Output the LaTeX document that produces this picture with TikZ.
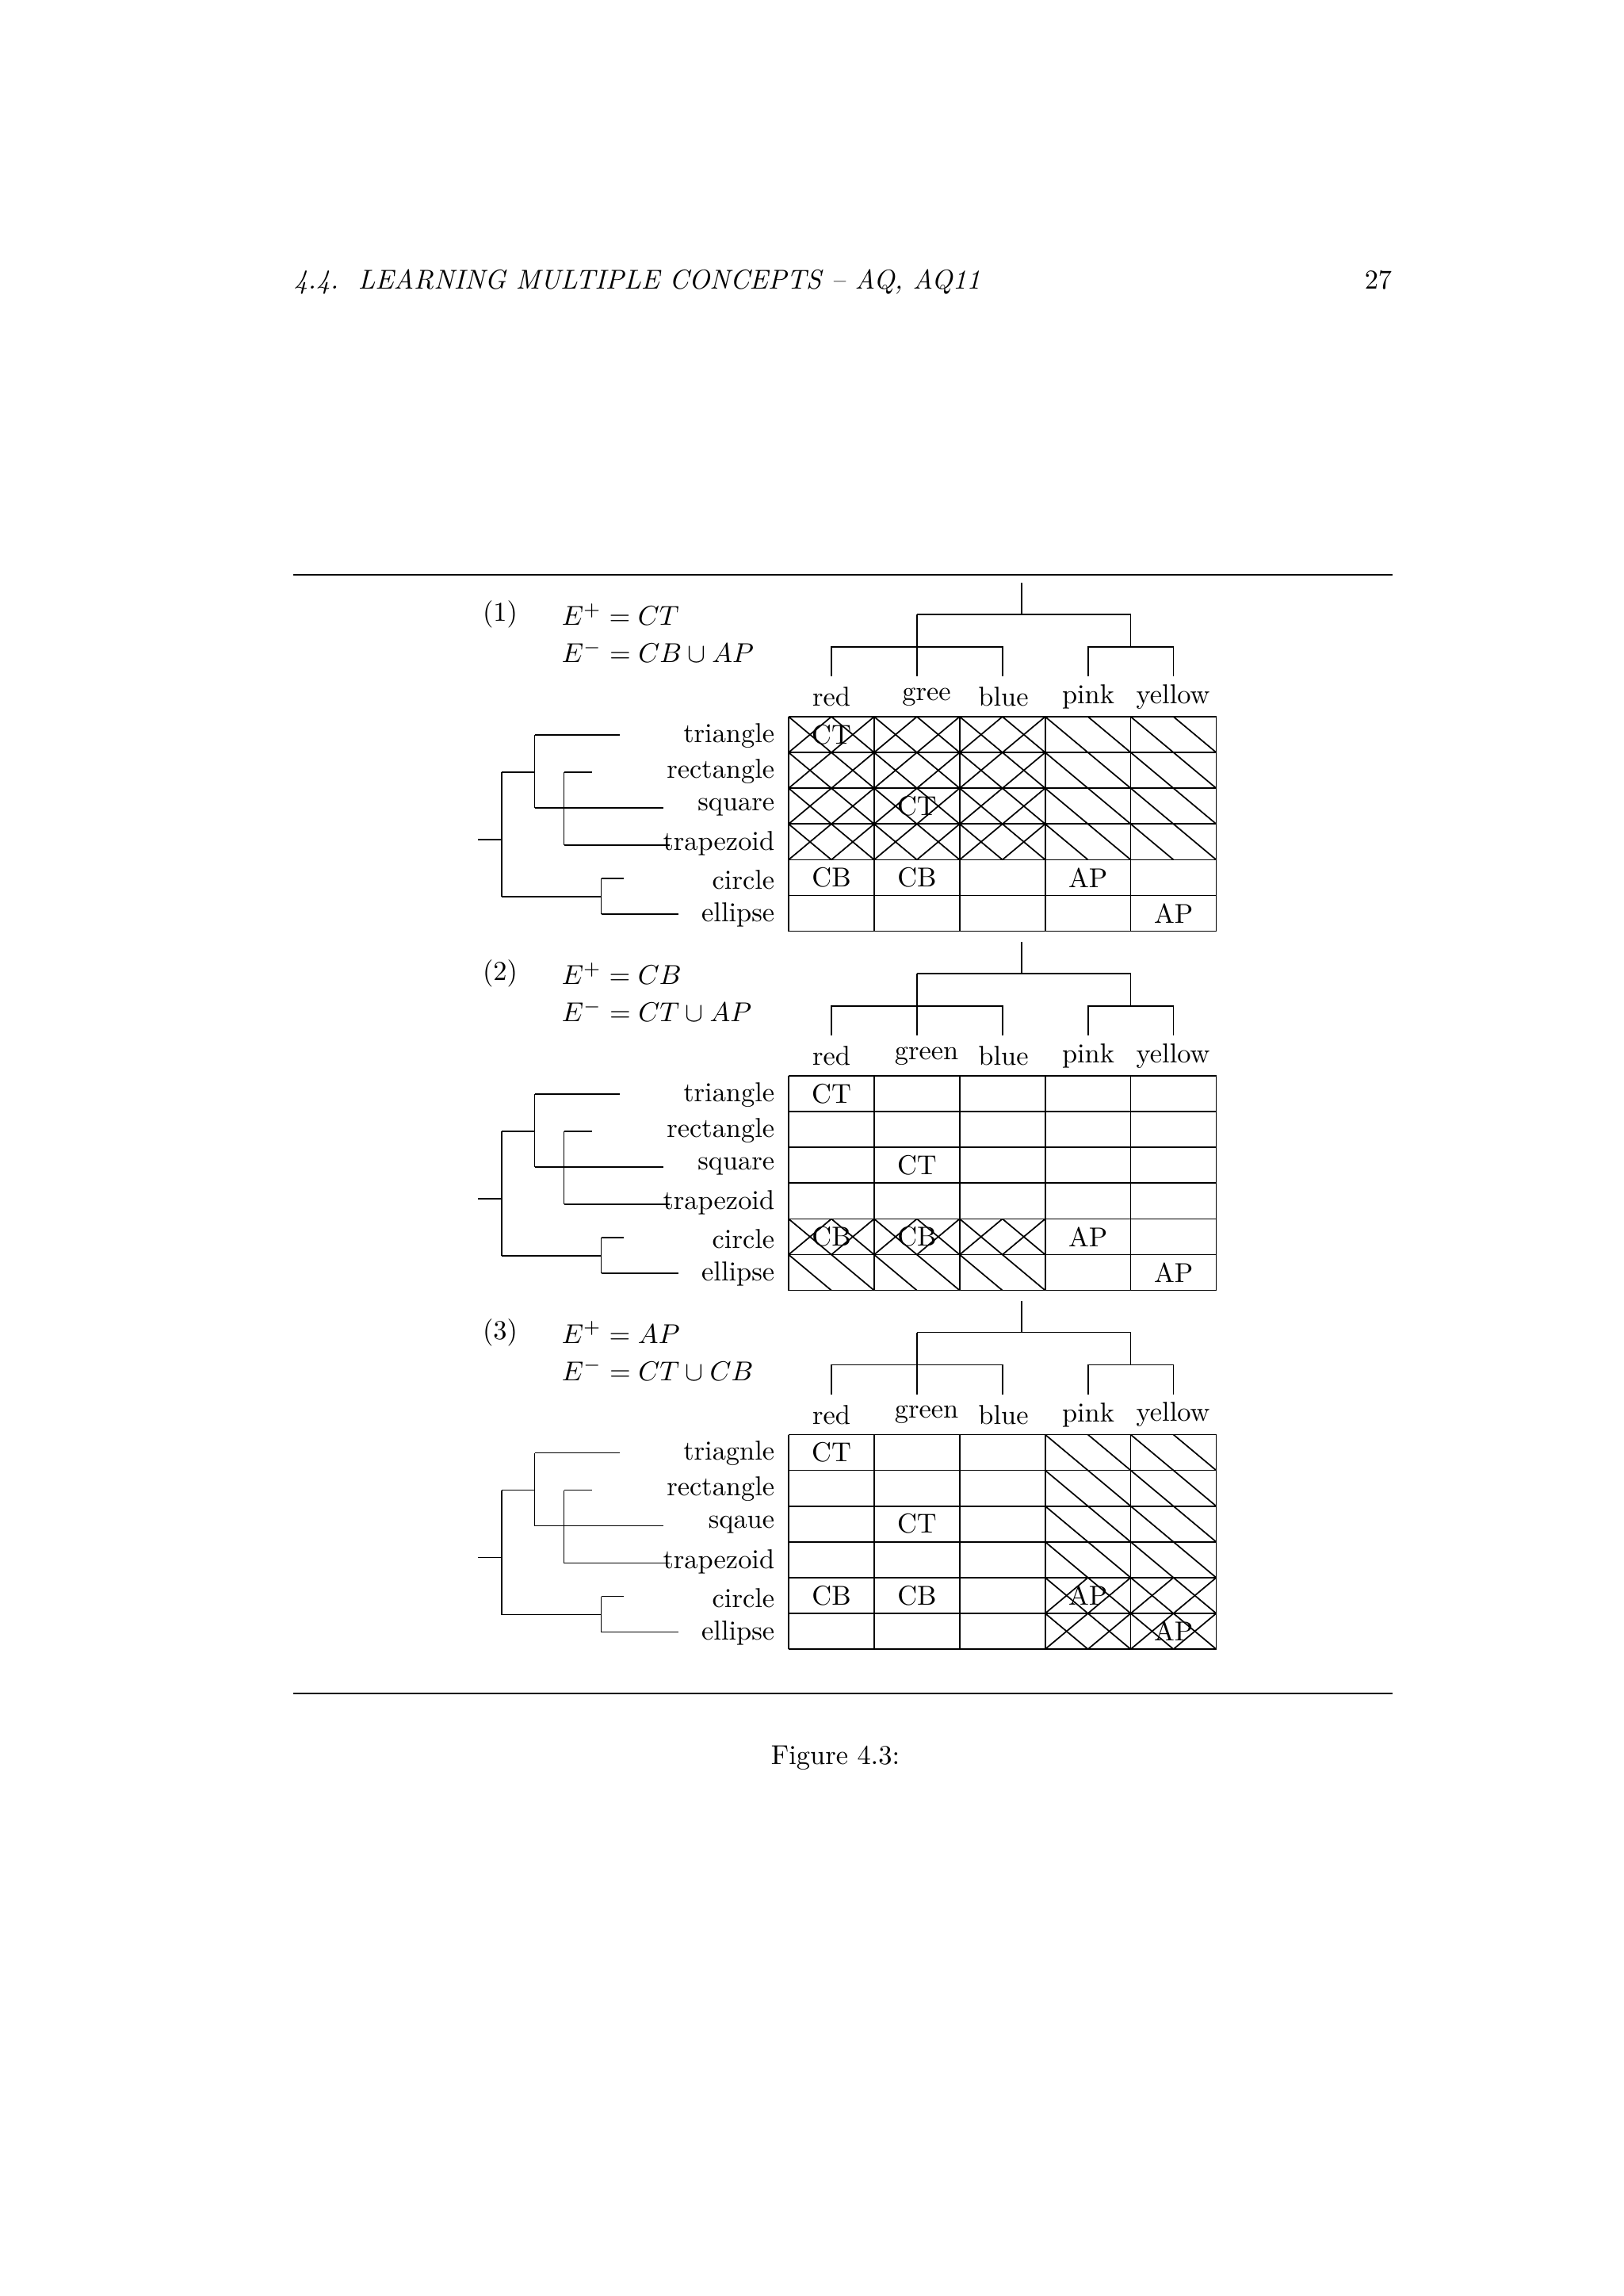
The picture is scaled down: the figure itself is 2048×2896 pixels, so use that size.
\documentclass[tikz,border=0pt]{standalone}
\usepackage{amsmath}
\begin{document}
\begin{tikzpicture}[x=0.29067pt,y=-0.29067pt,line width=0.5pt,
  lbl/.style={inner sep=0pt,font=\fontsize{10}{12}\selectfont},
  cell/.style={lbl}]
\useasboundingbox (0,0) rectangle (2048,2896);
\node[lbl,anchor=base west,font=\fontsize{10}{12}\selectfont\itshape] (hd) at (370,364) {4.4.\ \ LEARNING MULTIPLE CONCEPTS -- AQ, AQ11};
\node[lbl,anchor=base east] (pg) at (1757,364) {27};
\draw (370,725) -- (1757,725);
\draw (370,2136) -- (1757,2136);
\node[lbl] (cap) at (1054,2217) {Figure 4.3:};
% generic panel
\newcommand{\mypanel}[9]{%
\begin{scope}[shift={(995,#1)}]
 \foreach \c/\r in {#8}{
   \pgfmathsetmacro{\xa}{107.9*\c}\pgfmathsetmacro{\ya}{45.1*\r}
   \draw ({\xa},{\ya}) -- ({\xa+53.95},{\ya+45.1});
   \draw ({\xa+53.95},{\ya}) -- ({\xa+107.9},{\ya+45.1});
   \draw ({\xa+53.95},{\ya}) -- ({\xa},{\ya+45.1});
   \draw ({\xa+107.9},{\ya}) -- ({\xa+53.95},{\ya+45.1});}
 \foreach \c/\r in {#9}{
   \pgfmathsetmacro{\xa}{107.9*\c}\pgfmathsetmacro{\ya}{45.1*\r}
   \draw ({\xa},{\ya}) -- ({\xa+53.95},{\ya+45.1});
   \draw ({\xa+53.95},{\ya}) -- ({\xa+107.9},{\ya+45.1});}
 \foreach \i in {0,...,5}{\draw ({107.9*\i},0) -- ({107.9*\i},270.6);}
 \foreach \j in {0,...,6}{\draw (0,{45.1*\j}) -- (539.5,{45.1*\j});}
 \node[cell] (ct1) at (54,22.5) {CT};
 \node[cell] (ct2) at (161.9,112.7) {CT};
 \node[cell] (cb1) at (54,202.9) {CB};
 \node[cell] (cb2) at (161.9,202.9) {CB};
 \node[cell] (ap1) at (377.7,202.9) {AP};
 \node[cell] (ap2) at (485.6,248) {AP};
 \draw (294,-169) -- (294,-129);
 \draw (162,-129) -- (431.6,-129);
 \draw (162,-129) -- (162,-51);
 \draw (431.6,-129) -- (431.6,-88);
 \draw (54,-51) -- (54,-88) -- (270,-88) -- (270,-51);
 \draw (377.7,-51) -- (377.7,-88) -- (485.6,-88) -- (485.6,-51);
 \node[lbl] (cr) at (54,-25) {red};
 \node[lbl] (cg) at (174,-25) {#2};
 \node[lbl] (cbl) at (271,-25) {blue};
 \node[lbl] (cp) at (378,-25) {pink};
 \node[lbl] (cy) at (485,-25) {yellow};
 \node[lbl] (num) at (-364,-129) {(#3)};
 \node[lbl,anchor=west] (ep) at (-287,-129) {$E^{+}=#4$};
 \node[lbl,anchor=west] (em) at (-287,-82) {$E^{-}=#5$};
 \node[lbl,anchor=east] (r1) at (-17,24) {#6};
 \node[lbl,anchor=east] (r2) at (-17,69) {rectangle};
 \node[lbl,anchor=east] (r3) at (-17,114) {#7};
 \node[lbl,anchor=east] (r4) at (-17,160) {trapezoid};
 \node[lbl,anchor=east] (r5) at (-17,206) {circle};
 \node[lbl,anchor=east] (r6) at (-17,250) {ellipse};
 \draw (-392,155) -- (-362,155);
 \draw (-362,70) -- (-362,227);
 \draw (-362,70) -- (-320.5,70);
 \draw (-320.5,23) -- (-320.5,115);
 \draw (-320.5,23) -- (-213,23);
 \draw (-320.5,115) -- (-158,115);
 \draw (-283.4,70) -- (-283.4,162);
 \draw (-283.4,70) -- (-248,70);
 \draw (-283.4,162) -- (-150,162);
 \draw (-362,227) -- (-236.5,227);
 \draw (-236.5,204) -- (-236.5,249);
 \draw (-236.5,204) -- (-208.4,204);
 \draw (-236.5,249) -- (-139,249);
\end{scope}}
\mypanel{904}{gree}{1}{CT}{CB\cup AP}{triangle}{square}%
  {0/0,1/0,2/0,0/1,1/1,2/1,0/2,1/2,2/2,0/3,1/3,2/3}%
  {3/0,4/0,3/1,4/1,3/2,4/2,3/3,4/3}
\mypanel{1357}{green}{2}{CB}{CT\cup AP}{triangle}{square}%
  {0/4,1/4,2/4}%
  {0/5,1/5,2/5}
\mypanel{1809.5}{green}{3}{AP}{CT\cup CB}{triagnle}{sqaue}%
  {3/4,4/4,3/5,4/5}%
  {3/0,4/0,3/1,4/1,3/2,4/2,3/3,4/3}
\end{tikzpicture}
\end{document}
